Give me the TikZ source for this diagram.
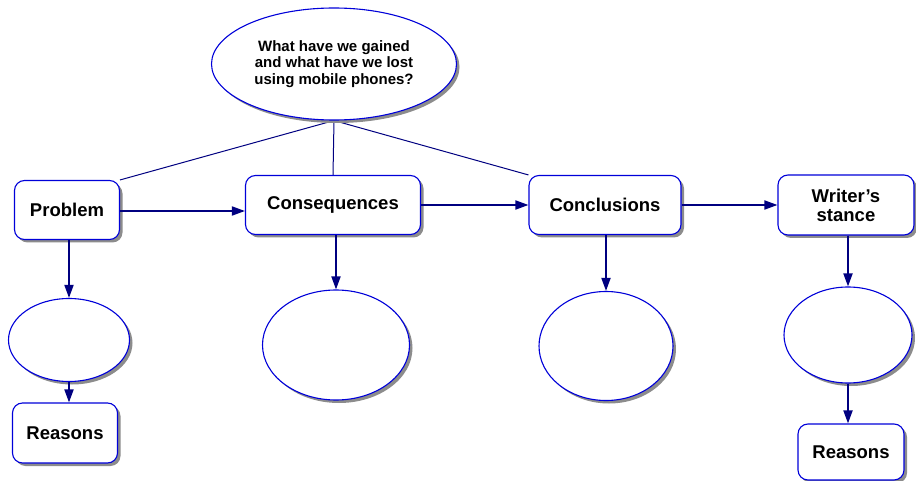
\documentclass[tikz,border=0pt]{standalone}
\usepackage{fontspec}
\setmainfont{Liberation Sans}
\usetikzlibrary{arrows.meta,shapes.geometric,shadows,backgrounds}

\begin{document}
\begin{tikzpicture}[x=1pt,y=-1pt,>={Triangle[length=13pt,width=9pt]},
		box/.style={draw=blue!85!black, line width=1.1pt, fill=white, rounded corners=10pt,
			inner sep=0pt, align=center, font=\bfseries\fontsize{18.5}{19}\selectfont,
			drop shadow={shadow xshift=3pt, shadow yshift=-3pt, fill=black!45, opacity=1}},
		blob/.style={draw=blue!85!black, line width=1.1pt, fill=white, ellipse, inner sep=0pt,
			drop shadow={shadow xshift=3pt, shadow yshift=-3pt, fill=black!45, opacity=1}},
		link/.style={draw=blue!50!black, line width=1.8pt, ->},
		spoke/.style={draw=blue!50!black, line width=1pt}]
		\useasboundingbox (0,0) rectangle (916,481);
		
		% question
		\node[blob, minimum width=245pt, minimum height=112pt, align=center,
			font=\bfseries\fontsize{15}{16.5}\selectfont] (q) at (334,64)
			{What have we gained\\ and what have we lost\\ using mobile phones?};
		
		% boxes
		\node[box, minimum width=105pt, minimum height=59pt] (prob) at (67,210) {Problem};
		\node[box, minimum width=175pt, minimum height=59pt] (cons) at (333,205) {Consequences};
		\node[box, minimum width=152pt, minimum height=59pt] (conc) at (605,205) {Conclusions};
		\node[box, minimum width=136pt, minimum height=60pt] (stance) at (846,205) {Writer’s\\ stance};
		
		% empty ellipses
		\node[blob, minimum width=121pt, minimum height=83pt] (e1) at (69,340) {};
		\node[blob, minimum width=147pt, minimum height=110pt] (e2) at (336,345) {};
		\node[blob, minimum width=134pt, minimum height=109pt] (e3) at (606,346) {};
		\node[blob, minimum width=128pt, minimum height=96pt] (e4) at (848,335) {};
		
		% reasons
		\node[box, minimum width=105pt, minimum height=60pt] (r1) at (65,433) {Reasons};
		\node[box, minimum width=106pt, minimum height=56pt] (r2) at (851,452) {Reasons};
		
		% spokes from the question
		\begin{scope}[on background layer]
			\draw[spoke] (q.south) -- (prob.north east);
			\draw[spoke] (q.south) -- (cons.north);
			\draw[spoke] (q.south) -- (conc.north west);
		\end{scope}
		
		% arrows
		\draw[link] (prob.east |- 0,211) -- (cons.west |- 0,211);
		\draw[link] (cons) -- (conc);
		\draw[link] (conc) -- (stance);
		\draw[link] (prob.south -| e1.north) -- (e1.north);
		\draw[link] (cons.south -| e2.north) -- (e2.north);
		\draw[link] (conc.south -| e3.north) -- (e3.north);
		\draw[link] (stance.south -| e4.north) -- (e4.north);
		\draw[link] (e1.south) -- (e1.south |- r1.north);
		\draw[link] (e4.south) -- (e4.south |- r2.north);
	\end{tikzpicture}
\end{document}
